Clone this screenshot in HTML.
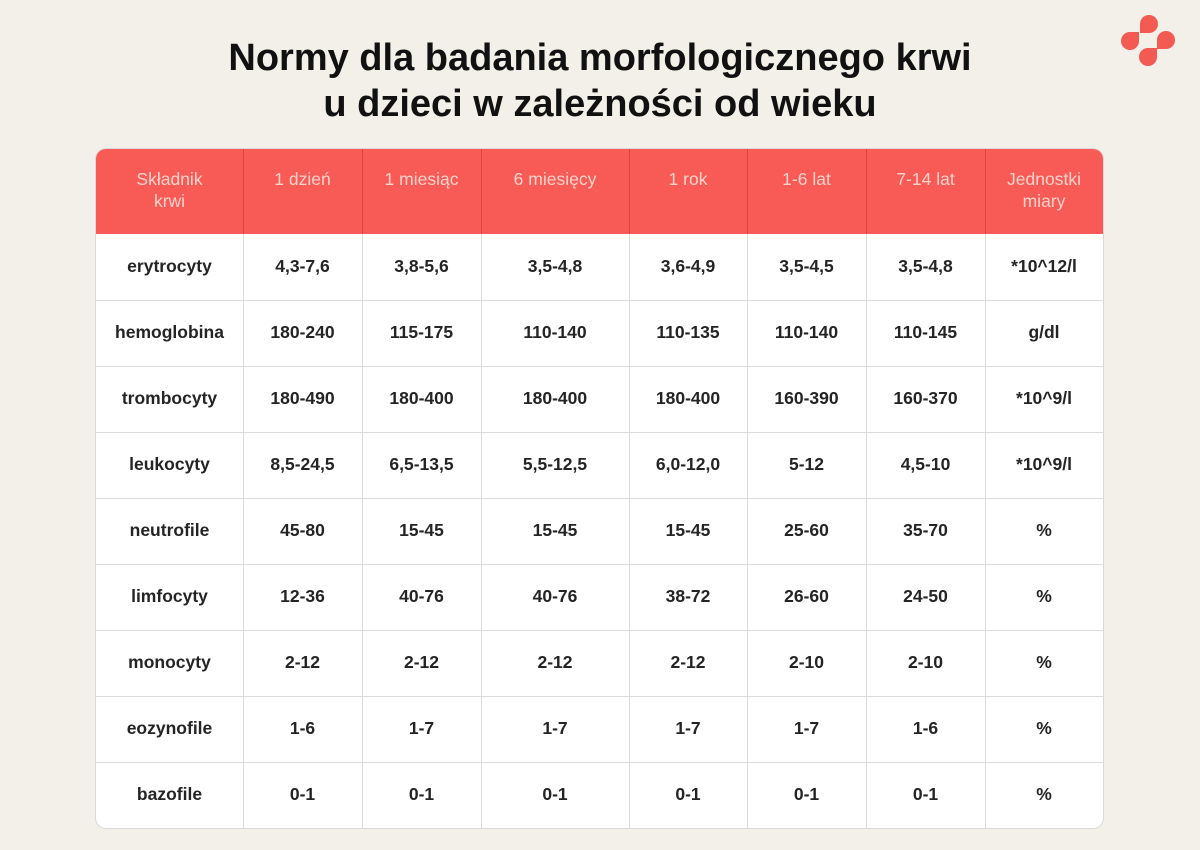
<!DOCTYPE html>
<html><head><meta charset="utf-8">
<style>
html,body{margin:0;padding:0;}
body{width:1200px;height:850px;background:#f3efe9;position:relative;overflow:hidden;font-family:"Liberation Sans",sans-serif;}
.title{position:absolute;left:0;top:35px;width:1200px;text-align:center;font-weight:bold;font-size:38px;line-height:46px;color:#111;}
.drop{position:absolute;width:18px;height:18px;background:#f25a52;}
.tbl{position:absolute;left:96px;top:149px;width:1007px;height:679px;background:#fff;border-radius:10px;overflow:hidden;box-shadow:0 0 0 1px #d9d9d9;}
.hdr{position:absolute;left:0;top:0;width:1007px;height:85px;background:#f85a55;}
.vl{position:absolute;width:1px;background:#dcdcdc;top:85px;height:594px;}
.vh{position:absolute;width:1px;background:#e2423d;top:0;height:85px;}
.hl{position:absolute;left:0;width:1007px;height:1px;background:#dcdcdc;}
.hc{position:absolute;top:19px;text-align:center;color:#fdd3cc;font-size:17.5px;line-height:22px;}
.c{position:absolute;text-align:center;color:#242424;font-weight:bold;font-size:17.5px;line-height:66px;height:66px;}
</style></head><body>
<div class="title">Normy dla badania morfologicznego krwi<br>u dzieci w zależności od wieku</div>
<div class="drop" style="left:1140px;top:15px;border-radius:9px 9px 9px 0;"></div>
<div class="drop" style="left:1121px;top:32px;border-radius:9px 0 9px 9px;"></div>
<div class="drop" style="left:1157px;top:31px;border-radius:9px 9px 9px 0;"></div>
<div class="drop" style="left:1139px;top:48px;border-radius:9px 0 9px 9px;"></div>

<div class="tbl">
<div class="hdr"></div>
<!-- vertical lines: columns at 96,243,362,481,629,747,866,985,1103 -> relative 0,147,266,385,533,651,770,889,1007 -->
<div class="vh" style="left:147px"></div><div class="vh" style="left:266px"></div><div class="vh" style="left:385px"></div><div class="vh" style="left:533px"></div><div class="vh" style="left:651px"></div><div class="vh" style="left:770px"></div><div class="vh" style="left:889px"></div>
<div class="vl" style="left:147px"></div><div class="vl" style="left:266px"></div><div class="vl" style="left:385px"></div><div class="vl" style="left:533px"></div><div class="vl" style="left:651px"></div><div class="vl" style="left:770px"></div><div class="vl" style="left:889px"></div>
<div class="hl" style="top:151px"></div><div class="hl" style="top:217px"></div><div class="hl" style="top:283px"></div><div class="hl" style="top:349px"></div><div class="hl" style="top:415px"></div><div class="hl" style="top:481px"></div><div class="hl" style="top:547px"></div><div class="hl" style="top:613px"></div>

<div class="hc" style="left:0;width:147px">Składnik<br>krwi</div>
<div class="hc" style="left:147px;width:119px">1 dzień</div>
<div class="hc" style="left:266px;width:119px">1 miesiąc</div>
<div class="hc" style="left:385px;width:148px">6 miesięcy</div>
<div class="hc" style="left:533px;width:118px">1 rok</div>
<div class="hc" style="left:651px;width:119px">1-6 lat</div>
<div class="hc" style="left:770px;width:119px">7-14 lat</div>
<div class="hc" style="left:889px;width:118px">Jednostki<br>miary</div>

<!-- rows -->
<div style="position:absolute;left:0;top:84px;width:1007px;height:66px;">
<div class="c" style="left:0;width:147px">erytrocyty</div><div class="c" style="left:147px;width:119px">4,3-7,6</div><div class="c" style="left:266px;width:119px">3,8-5,6</div><div class="c" style="left:385px;width:148px">3,5-4,8</div><div class="c" style="left:533px;width:118px">3,6-4,9</div><div class="c" style="left:651px;width:119px">3,5-4,5</div><div class="c" style="left:770px;width:119px">3,5-4,8</div><div class="c" style="left:889px;width:118px">*10^12/l</div></div>
<div style="position:absolute;left:0;top:150px;width:1007px;height:66px;">
<div class="c" style="left:0;width:147px">hemoglobina</div><div class="c" style="left:147px;width:119px">180-240</div><div class="c" style="left:266px;width:119px">115-175</div><div class="c" style="left:385px;width:148px">110-140</div><div class="c" style="left:533px;width:118px">110-135</div><div class="c" style="left:651px;width:119px">110-140</div><div class="c" style="left:770px;width:119px">110-145</div><div class="c" style="left:889px;width:118px">g/dl</div></div>
<div style="position:absolute;left:0;top:216px;width:1007px;height:66px;">
<div class="c" style="left:0;width:147px">trombocyty</div><div class="c" style="left:147px;width:119px">180-490</div><div class="c" style="left:266px;width:119px">180-400</div><div class="c" style="left:385px;width:148px">180-400</div><div class="c" style="left:533px;width:118px">180-400</div><div class="c" style="left:651px;width:119px">160-390</div><div class="c" style="left:770px;width:119px">160-370</div><div class="c" style="left:889px;width:118px">*10^9/l</div></div>
<div style="position:absolute;left:0;top:282px;width:1007px;height:66px;">
<div class="c" style="left:0;width:147px">leukocyty</div><div class="c" style="left:147px;width:119px">8,5-24,5</div><div class="c" style="left:266px;width:119px">6,5-13,5</div><div class="c" style="left:385px;width:148px">5,5-12,5</div><div class="c" style="left:533px;width:118px">6,0-12,0</div><div class="c" style="left:651px;width:119px">5-12</div><div class="c" style="left:770px;width:119px">4,5-10</div><div class="c" style="left:889px;width:118px">*10^9/l</div></div>
<div style="position:absolute;left:0;top:348px;width:1007px;height:66px;">
<div class="c" style="left:0;width:147px">neutrofile</div><div class="c" style="left:147px;width:119px">45-80</div><div class="c" style="left:266px;width:119px">15-45</div><div class="c" style="left:385px;width:148px">15-45</div><div class="c" style="left:533px;width:118px">15-45</div><div class="c" style="left:651px;width:119px">25-60</div><div class="c" style="left:770px;width:119px">35-70</div><div class="c" style="left:889px;width:118px">%</div></div>
<div style="position:absolute;left:0;top:414px;width:1007px;height:66px;">
<div class="c" style="left:0;width:147px">limfocyty</div><div class="c" style="left:147px;width:119px">12-36</div><div class="c" style="left:266px;width:119px">40-76</div><div class="c" style="left:385px;width:148px">40-76</div><div class="c" style="left:533px;width:118px">38-72</div><div class="c" style="left:651px;width:119px">26-60</div><div class="c" style="left:770px;width:119px">24-50</div><div class="c" style="left:889px;width:118px">%</div></div>
<div style="position:absolute;left:0;top:480px;width:1007px;height:66px;">
<div class="c" style="left:0;width:147px">monocyty</div><div class="c" style="left:147px;width:119px">2-12</div><div class="c" style="left:266px;width:119px">2-12</div><div class="c" style="left:385px;width:148px">2-12</div><div class="c" style="left:533px;width:118px">2-12</div><div class="c" style="left:651px;width:119px">2-10</div><div class="c" style="left:770px;width:119px">2-10</div><div class="c" style="left:889px;width:118px">%</div></div>
<div style="position:absolute;left:0;top:546px;width:1007px;height:66px;">
<div class="c" style="left:0;width:147px">eozynofile</div><div class="c" style="left:147px;width:119px">1-6</div><div class="c" style="left:266px;width:119px">1-7</div><div class="c" style="left:385px;width:148px">1-7</div><div class="c" style="left:533px;width:118px">1-7</div><div class="c" style="left:651px;width:119px">1-7</div><div class="c" style="left:770px;width:119px">1-6</div><div class="c" style="left:889px;width:118px">%</div></div>
<div style="position:absolute;left:0;top:612px;width:1007px;height:66px;">
<div class="c" style="left:0;width:147px">bazofile</div><div class="c" style="left:147px;width:119px">0-1</div><div class="c" style="left:266px;width:119px">0-1</div><div class="c" style="left:385px;width:148px">0-1</div><div class="c" style="left:533px;width:118px">0-1</div><div class="c" style="left:651px;width:119px">0-1</div><div class="c" style="left:770px;width:119px">0-1</div><div class="c" style="left:889px;width:118px">%</div></div>
</div>
</body></html>
